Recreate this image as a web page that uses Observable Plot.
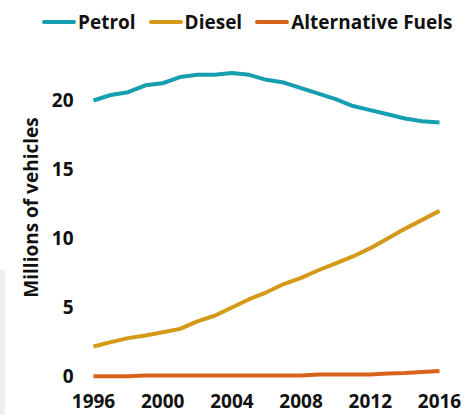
<!DOCTYPE html>
<html>
<head>
<meta charset="utf-8">
<script src="https://cdn.jsdelivr.net/npm/d3@7"></script>
<script src="https://cdn.jsdelivr.net/npm/@observablehq/plot@0.6"></script>
<style>
  body { margin: 0; background: #fff; }
  #wrap { position: relative; width: 476px; height: 415px; overflow: hidden; font-family: "Open Sans", "Liberation Sans", sans-serif; }
  #legend { position: absolute; top: 9px; left: 42px; display: flex; align-items: center; font-weight: 700; font-size: 19px; color: #111; white-space: nowrap; }
  #legend .item { display: flex; align-items: center; margin-right: 13px; }
  #legend .sw { width: 34px; height: 4px; border-radius: 2px; margin-right: 2px; }
  #chart { position: absolute; top: 40px; left: 0; }
  #shade { position: absolute; left: 0; top: 270px; width: 5px; height: 145px; background: #eef0f0; }
</style>
</head>
<body>
<div id="wrap">
  <div id="shade"></div>
  <div id="legend"></div>
  <div id="chart"></div>
</div>
<script>
const years = [1996,1997,1998,1999,2000,2001,2002,2003,2004,2005,2006,2007,2008,2009,2010,2011,2012,2013,2014,2015,2016];
const petrol = [20.0,20.4,20.6,21.1,21.25,21.7,21.86,21.86,22.0,21.86,21.5,21.3,20.9,20.5,20.1,19.6,19.3,19.0,18.7,18.5,18.4];
const diesel = [2.17,2.49,2.78,2.97,3.2,3.45,4.0,4.4,5.0,5.6,6.1,6.7,7.15,7.7,8.2,8.7,9.3,10.0,10.7,11.35,12.0];
const altFuels = [0.02,0.02,0.02,0.08,0.08,0.08,0.08,0.08,0.08,0.08,0.08,0.08,0.08,0.15,0.15,0.15,0.15,0.22,0.25,0.32,0.4];
const seriesNames = ["Petrol","Diesel","Alternative Fuels"];
const seriesColors = ["#159fb0","#d49a17","#d9621a"];
const xTicks = [1996,2000,2004,2008,2012,2016];
const yTicks = [0,5,10,15,20];
const yLabel = "Millions of vehicles";

const seriesValues = [petrol, diesel, altFuels];
const data = [];
seriesNames.forEach((name, i) => {
  years.forEach((yr, j) => data.push({series: name, year: yr, value: seriesValues[i][j]}));
});

// legend
const legend = document.getElementById("legend");
seriesNames.forEach((name, i) => {
  const item = document.createElement("div");
  item.className = "item";
  const sw = document.createElement("span");
  sw.className = "sw";
  sw.style.background = seriesColors[i];
  const t = document.createElement("span");
  t.textContent = name;
  item.appendChild(sw); item.appendChild(t);
  legend.appendChild(item);
});

const font = "'Open Sans', 'Liberation Sans', sans-serif";
const chart = Plot.plot({
  width: 476,
  height: 375,
  marginLeft: 93,
  marginRight: 37,
  marginTop: 60,
  marginBottom: 39,
  style: {fontFamily: font, fontSize: "19px", fontWeight: "700", color: "#111", background: "transparent"},
  x: {domain: [1996, 2016]},
  y: {domain: [0, 20]},
  color: {domain: seriesNames, range: seriesColors},
  marks: [
    Plot.axisX({ticks: xTicks, tickFormat: "d", tickSize: 0, tickPadding: 18, label: null, fontSize: 19, fontWeight: 700}),
    Plot.axisY({ticks: yTicks, tickSize: 0, tickPadding: 20, label: null, fontSize: 19, fontWeight: 700}),
    Plot.line(data, {x: "year", y: "value", z: "series", stroke: "series", strokeWidth: 4, strokeLinejoin: "round", strokeLinecap: "butt"}),
    Plot.text([yLabel], {frameAnchor: "left", textAnchor: "middle", text: d => d, rotate: -90, dx: -62, dy: -31, fontSize: 19, fontWeight: 700, fill: "#111"})
  ]
});
document.getElementById("chart").appendChild(chart);
</script>
</body>
</html>
